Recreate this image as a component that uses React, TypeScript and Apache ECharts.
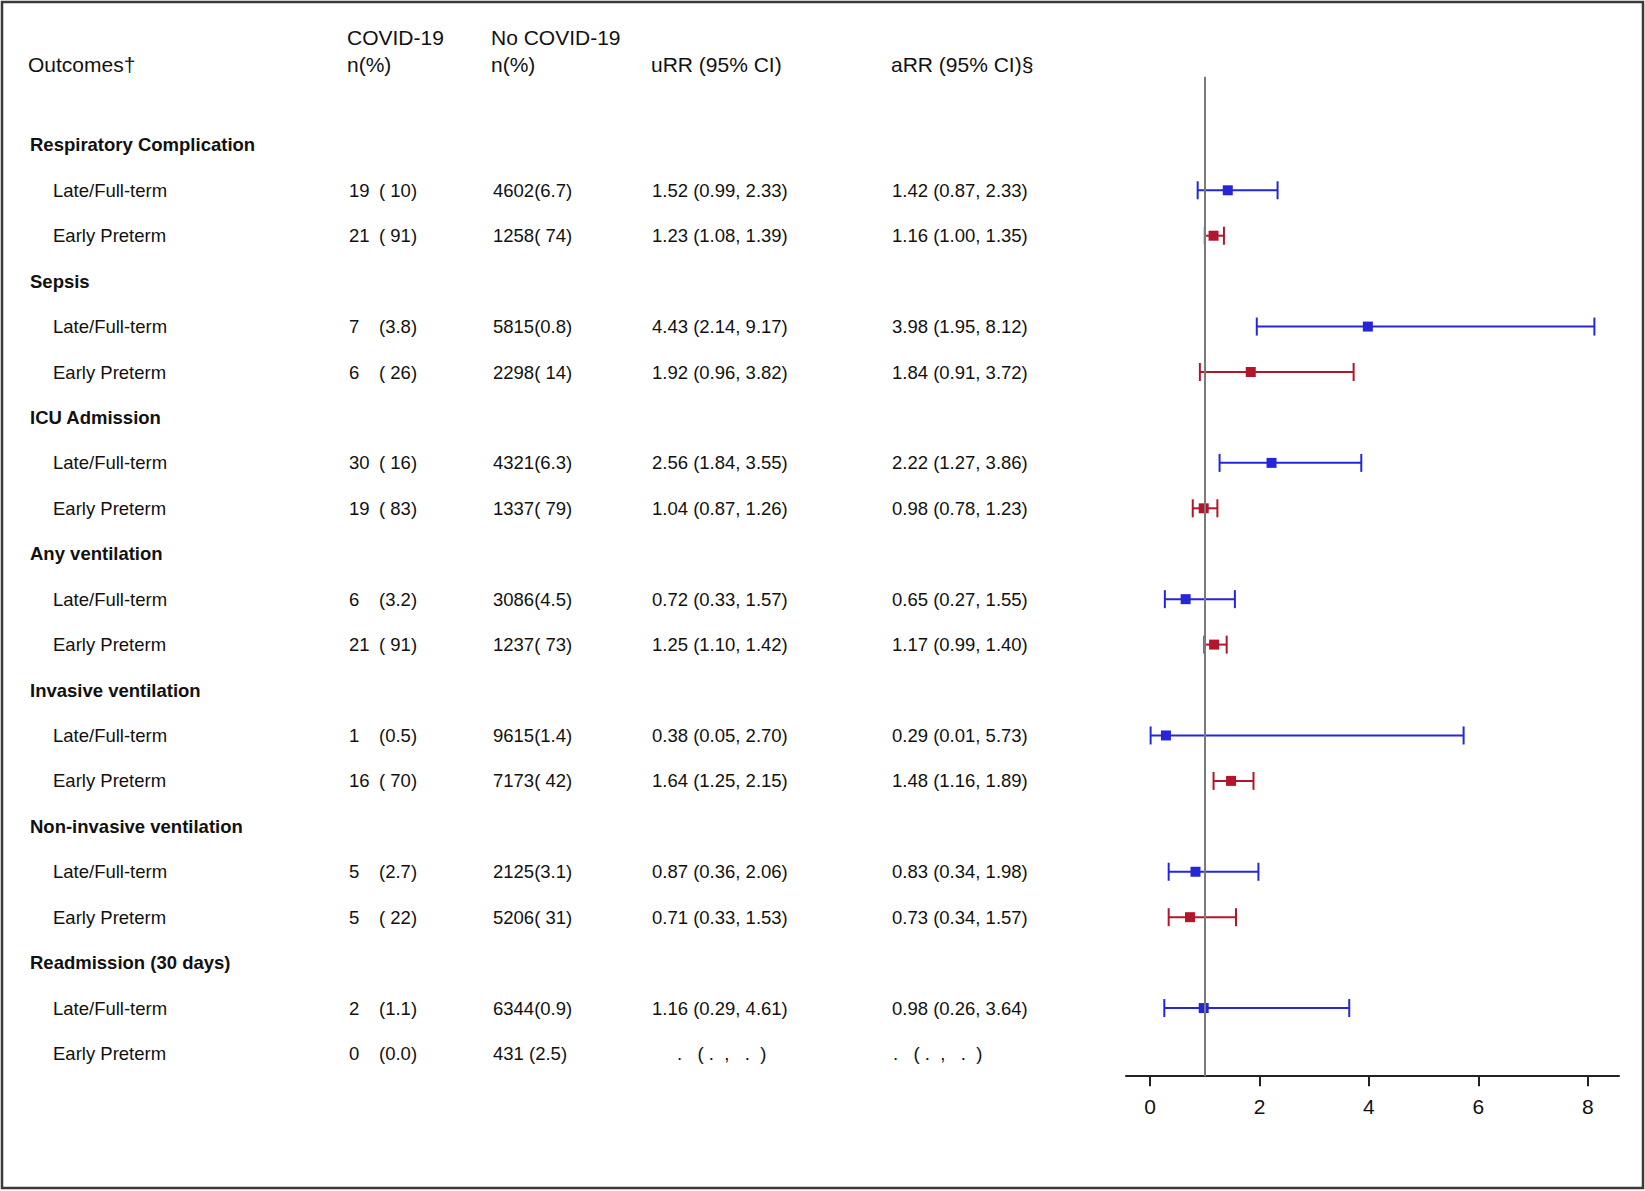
import React, { useEffect, useRef } from "react";
import * as echarts from "echarts";

// ---------- data ----------
const outcomes = [
  "Respiratory Complication",
  "Sepsis",
  "ICU Admission",
  "Any ventilation",
  "Invasive ventilation",
  "Non-invasive ventilation",
  "Readmission (30 days)",
];
const subgroups = ["Late/Full-term", "Early Preterm"];

// per outcome: [Late/Full-term, Early Preterm]
const covidN = [[19, 21], [7, 6], [30, 19], [6, 21], [1, 16], [5, 5], [2, 0]];
const covidPct = [
  ["( 10)", "( 91)"],
  ["(3.8)", "( 26)"],
  ["( 16)", "( 83)"],
  ["(3.2)", "( 91)"],
  ["(0.5)", "( 70)"],
  ["(2.7)", "( 22)"],
  ["(1.1)", "(0.0)"],
];
const noCovid = [
  ["4602(6.7)", "1258( 74)"],
  ["5815(0.8)", "2298( 14)"],
  ["4321(6.3)", "1337( 79)"],
  ["3086(4.5)", "1237( 73)"],
  ["9615(1.4)", "7173( 42)"],
  ["2125(3.1)", "5206( 31)"],
  ["6344(0.9)", "431 (2.5)"],
];
// [estimate, lower, upper]
const uRR: (number[] | null)[][] = [
  [[1.52, 0.99, 2.33], [1.23, 1.08, 1.39]],
  [[4.43, 2.14, 9.17], [1.92, 0.96, 3.82]],
  [[2.56, 1.84, 3.55], [1.04, 0.87, 1.26]],
  [[0.72, 0.33, 1.57], [1.25, 1.1, 1.42]],
  [[0.38, 0.05, 2.7], [1.64, 1.25, 2.15]],
  [[0.87, 0.36, 2.06], [0.71, 0.33, 1.53]],
  [[1.16, 0.29, 4.61], null],
];
const aRR: (number[] | null)[][] = [
  [[1.42, 0.87, 2.33], [1.16, 1.0, 1.35]],
  [[3.98, 1.95, 8.12], [1.84, 0.91, 3.72]],
  [[2.22, 1.27, 3.86], [0.98, 0.78, 1.23]],
  [[0.65, 0.27, 1.55], [1.17, 0.99, 1.4]],
  [[0.29, 0.01, 5.73], [1.48, 1.16, 1.89]],
  [[0.83, 0.34, 1.98], [0.73, 0.34, 1.57]],
  [[0.98, 0.26, 3.64], null],
];
const xTicks = [0, 2, 4, 6, 8];
const refValue = 1;

// ---------- styles ----------
const FONT = '"Liberation Sans", Arial, Helvetica, sans-serif';
const TEXT = "#111";
const COLORS = ["#2626d9", "#b3152b"];
const NB = "\u00A0";
const MISSING = "." + NB + NB + NB + "(" + NB + "." + NB + NB + "," + NB + NB + NB + "." + NB + NB + ")";

const fmt = (v: number[] | null) =>
  v ? `${v[0].toFixed(2)} (${v[1].toFixed(2)}, ${v[2].toFixed(2)})` : MISSING;

type Row =
  | { kind: "head"; label: string }
  | { kind: "sub"; label: string; o: number; s: number };

const rows: Row[] = [];
outcomes.forEach((label, o) => {
  rows.push({ kind: "head", label });
  subgroups.forEach((sl, s) => rows.push({ kind: "sub", label: sl, o, s }));
});

const yCats = ["top", ...rows.map((_, i) => "r" + i)];

export default function App() {
  const ref = useRef<HTMLDivElement>(null);
  useEffect(() => {
    if (!ref.current) return;
    const chart = echarts.init(ref.current, null, { renderer: "svg" });

    const forestData: number[][] = [];
    rows.forEach((r, i) => {
      if (r.kind === "sub") {
        const v = aRR[r.o][r.s];
        if (v) forestData.push([i + 1, v[0], v[1], v[2], r.s]);
      }
    });

    const txt = (x: number, y: number, text: string, bold = false) => ({
      type: "text",
      x,
      y,
      style: {
        text,
        fill: TEXT,
        fontSize: 18.5,
        fontFamily: FONT,
        fontWeight: bold ? "bold" : "normal",
        align: "left",
        verticalAlign: "middle",
        textAlign: "left",
        textVerticalAlign: "middle",
      },
    });

    const header = (x: number, y: number, text: string) => ({
      type: "text",
      x,
      y,
      style: {
        text,
        fill: TEXT,
        fontSize: 21,
        fontFamily: FONT,
        align: "left",
        verticalAlign: "middle",
        textAlign: "left",
        textVerticalAlign: "middle",
      },
    });

    chart.setOption({
      animation: false,
      backgroundColor: "#fff",
      grid: { left: 1126, right: 26, top: 76.7, bottom: 114.8, containLabel: false },
      xAxis: {
        type: "value",
        min: -0.44,
        max: 8.57,
        axisLine: { show: true, lineStyle: { color: "#222", width: 2 } },
        axisTick: {
          show: true,
          length: 10,
          customValues: xTicks,
          lineStyle: { color: "#222", width: 2 },
        },
        axisLabel: {
          show: true,
          customValues: xTicks,
          fontSize: 21,
          fontFamily: FONT,
          color: TEXT,
          margin: 20,
        },
        splitLine: { show: false },
      },
      yAxis: {
        type: "category",
        data: yCats,
        inverse: true,
        show: false,
      },
      graphic: [
        {
          type: "rect",
          shape: { x: 2, y: 2, width: 1641, height: 1186 },
          style: { fill: "none", stroke: "#3a3a3a", lineWidth: 2.5 },
          z: 100,
        },
        header(28, 64, "Outcomes\u2020"),
        header(347, 37, "COVID-19"),
        header(347, 64, "n(%)"),
        header(491, 37, "No COVID-19"),
        header(491, 64, "n(%)"),
        header(651, 64, "uRR (95% CI)"),
        header(891, 64, "aRR (95% CI)\u00A7"),
      ],
      series: [
        {
          type: "line",
          data: [],
          z: 1,
          markLine: {
            silent: true,
            symbol: "none",
            label: { show: false },
            lineStyle: { color: "#7a7a7a", width: 2, type: "solid" },
            data: [{ xAxis: refValue }],
          },
        },
        {
          type: "custom",
          z: 3,
          clip: false,
          encode: { x: [1, 2, 3], y: 0 },
          data: forestData,
          renderItem: (params: any, api: any) => {
            const r = api.value(0);
            const p = api.coord([api.value(1), r]);
            const a = api.coord([api.value(2), r]);
            const b = api.coord([api.value(3), r]);
            const color = COLORS[api.value(4)];
            const ls = { stroke: color, lineWidth: 2 };
            const cap = 9;
            return {
              type: "group",
              children: [
                { type: "line", shape: { x1: a[0], y1: p[1], x2: b[0], y2: p[1] }, style: ls },
                { type: "line", shape: { x1: a[0], y1: p[1] - cap, x2: a[0], y2: p[1] + cap }, style: ls },
                { type: "line", shape: { x1: b[0], y1: p[1] - cap, x2: b[0], y2: p[1] + cap }, style: ls },
                {
                  type: "rect",
                  shape: { x: p[0] - 5, y: p[1] - 5, width: 10, height: 10 },
                  style: { fill: color },
                },
              ],
            };
          },
        },
        {
          type: "custom",
          z: 3,
          clip: false,
          silent: true,
          encode: { x: 0, y: 1 },
          data: rows.map((_, i) => [0, i + 1]),
          renderItem: (params: any, api: any) => {
            const row = rows[params.dataIndex];
            const y = api.coord([0, api.value(1)])[1];
            if (row.kind === "head") {
              return { type: "group", children: [txt(30, y, row.label, true)] };
            }
            const { o, s } = row;
            const u = uRR[o][s];
            const a = aRR[o][s];
            return {
              type: "group",
              children: [
                txt(53, y, row.label),
                txt(349, y, String(covidN[o][s])),
                txt(379, y, covidPct[o][s]),
                txt(493, y, noCovid[o][s]),
                txt(u ? 652 : 677, y, fmt(u)),
                txt(a ? 892 : 893, y, fmt(a)),
              ],
            };
          },
        },
      ],
    });

    return () => chart.dispose();
  }, []);

  return (
    <div
      ref={ref}
      style={{ position: "fixed", left: 0, top: 0, width: 1645, height: 1191, background: "#fff" }}
    />
  );
}
